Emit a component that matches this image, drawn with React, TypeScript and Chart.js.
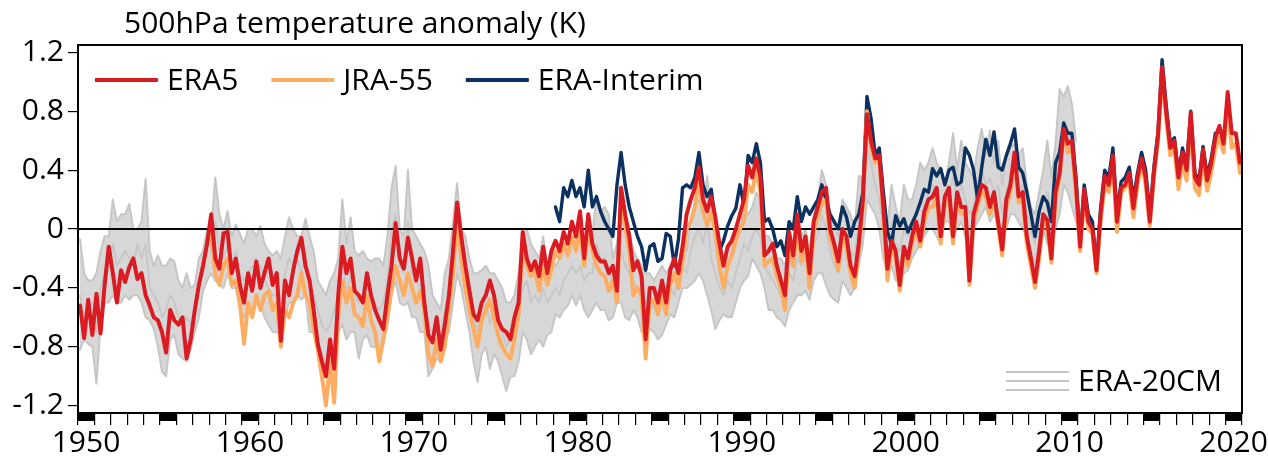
import React, { useEffect, useRef } from "react";
import { Chart, registerables } from "chart.js";

Chart.register(...registerables);

// ---- time axis ----
const POINTS_PER_YEAR = 4;
const X_MIN = 1950;
const X_MAX = 2021;
const DECADE_LABELS = [1950, 1960, 1970, 1980, 1990, 2000, 2010, 2020];
const STRIP_YEARS = [1950, 1955, 1960, 1965, 1970, 1975, 1980, 1985, 1990, 1995, 2000, 2005, 2010, 2015, 2020];
const Y_TICKS = [-1.2, -0.8, -0.4, 0, 0.4, 0.8, 1.2];

const TITLE = "500hPa temperature anomaly (K)";

// ---- series (quarterly values, K) ----
const ERA5_START = 1950;
const era5 = [
  -0.52, -0.74, -0.48, -0.72, // 1950
  -0.44, -0.71, -0.38, -0.12,
  -0.30, -0.50, -0.28, -0.36,
  -0.26, -0.20, -0.34, -0.30,
  -0.45, -0.52, -0.60, -0.62,
  -0.70, -0.84, -0.55, -0.62, // 1955
  -0.65, -0.60, -0.88, -0.75,
  -0.55, -0.38, -0.25, -0.10,
  0.10, -0.20, -0.27, -0.03,
  -0.02, -0.30, -0.20, -0.38,
  -0.50, -0.30, -0.42, -0.22, // 1960
  -0.40, -0.30, -0.20, -0.38,
  -0.30, -0.76, -0.35, -0.45,
  -0.28, -0.15, -0.06, -0.25,
  -0.35, -0.55, -0.78, -0.90,
  -1.00, -0.75, -0.95, -0.45, // 1965
  -0.12, -0.30, -0.20, -0.42,
  -0.45, -0.50, -0.30, -0.45,
  -0.55, -0.62, -0.68, -0.45,
  -0.25, 0.04, -0.20, -0.27,
  -0.06, -0.20, -0.35, -0.20, // 1970
  -0.50, -0.72, -0.77, -0.60,
  -0.82, -0.65, -0.45, -0.15,
  0.18, -0.05, -0.25, -0.42,
  -0.58, -0.62, -0.50, -0.45,
  -0.35, -0.45, -0.62, -0.68, // 1975
  -0.70, -0.75, -0.60, -0.50,
  -0.02, -0.20, -0.28, -0.22,
  -0.32, -0.12, -0.30, -0.15,
  -0.08, -0.15, -0.02, -0.10,
  0.05, -0.05, 0.12, -0.20, // 1980
  0.10, -0.10, -0.18, -0.22,
  -0.22, -0.30, -0.25, -0.42,
  0.28, 0.10, -0.05, -0.28,
  -0.22, -0.32, -0.75, -0.40,
  -0.40, -0.50, -0.35, -0.50, // 1985
  -0.28, -0.20, -0.30, -0.12,
  0.10, 0.20, 0.28, 0.42,
  0.20, 0.12, 0.22, 0.08,
  -0.10, -0.25, -0.12, -0.08,
  0.00, 0.10, 0.20, 0.43, // 1990
  0.35, 0.48, 0.35, -0.18,
  -0.15, -0.10, -0.25, -0.35,
  -0.45, -0.02, -0.18, 0.10,
  -0.15, -0.05, -0.30, 0.05,
  0.15, 0.25, 0.28, 0.00, // 1995
  -0.10, -0.22, 0.00, -0.05,
  -0.25, -0.32, -0.10, 0.20,
  0.78, 0.60, 0.48, 0.50,
  0.15, -0.27, -0.08, -0.15,
  -0.38, -0.12, -0.20, -0.05, // 2000
  0.05, -0.08, 0.12, 0.20,
  0.22, 0.28, -0.05, 0.22,
  0.28, -0.05, 0.25, 0.15,
  0.15, -0.35, 0.10, 0.20,
  0.30, 0.28, 0.15, 0.25, // 2005
  0.05, -0.14, 0.20, 0.30,
  0.52, 0.22, 0.25, -0.05,
  -0.20, -0.36, -0.15, 0.10,
  0.06, -0.20, 0.25, 0.38,
  0.68, 0.58, 0.60, 0.30, // 2010
  -0.12, 0.27, 0.05, 0.00,
  -0.28, 0.10, 0.36, 0.30,
  0.50, 0.05, 0.28, 0.30,
  0.38, 0.14, 0.35, 0.48,
  0.35, 0.05, 0.38, 0.63, // 2015
  1.10, 0.80, 0.55, 0.60,
  0.35, 0.52, 0.40, 0.79,
  0.35, 0.30, 0.54, 0.33,
  0.45, 0.62, 0.70, 0.58,
  0.93, 0.65, 0.65, 0.45, // 2020
];

const JRA55_START = 1958;
const jra55 = [
  -0.05, -0.30, -0.38, -0.25, // 1958
  -0.20, -0.38, -0.35, -0.50,
  -0.78, -0.50, -0.60, -0.45, // 1960
  -0.55, -0.45, -0.42, -0.55,
  -0.50, -0.80, -0.55, -0.60,
  -0.50, -0.45, -0.30, -0.45,
  -0.50, -0.68, -0.82, -1.00,
  -1.20, -0.90, -1.18, -0.60, // 1965
  -0.35, -0.50, -0.40, -0.58,
  -0.60, -0.66, -0.45, -0.62,
  -0.70, -0.90, -0.75, -0.60,
  -0.40, -0.25, -0.35, -0.45,
  -0.30, -0.40, -0.50, -0.42, // 1970
  -0.55, -0.85, -0.93, -0.75,
  -0.90, -0.80, -0.55, -0.30,
  0.10, -0.20, -0.40, -0.55,
  -0.68, -0.80, -0.62, -0.55,
  -0.48, -0.60, -0.72, -0.80, // 1975
  -0.85, -0.88, -0.75, -0.58,
  -0.12, -0.25, -0.32, -0.28,
  -0.42, -0.25, -0.38, -0.28,
  -0.15, -0.20, -0.10, -0.18,
  -0.05, -0.15, 0.02, -0.25, // 1980
  0.00, -0.15, -0.25, -0.30,
  -0.32, -0.42, -0.35, -0.50,
  0.20, 0.02, -0.15, -0.45,
  -0.40, -0.45, -0.88, -0.50,
  -0.48, -0.58, -0.45, -0.58, // 1985
  -0.38, -0.30, -0.40, -0.22,
  0.00, 0.05, 0.15, 0.32,
  0.12, 0.02, 0.12, -0.02,
  -0.25, -0.40, -0.25, -0.18,
  -0.08, 0.00, 0.05, 0.30, // 1990
  0.25, 0.40, 0.25, -0.25,
  -0.22, -0.20, -0.32, -0.40,
  -0.55, -0.12, -0.25, 0.02,
  -0.22, -0.12, -0.40, -0.02,
  0.08, 0.18, 0.20, -0.05, // 1995
  -0.15, -0.28, -0.05, -0.12,
  -0.30, -0.40, -0.15, 0.15,
  0.80, 0.55, 0.45, 0.48,
  0.10, -0.35, -0.12, -0.20,
  -0.42, -0.18, -0.25, -0.10, // 2000
  0.00, -0.12, 0.05, 0.15,
  0.15, 0.22, -0.10, 0.18,
  0.22, -0.10, 0.20, 0.10,
  0.10, -0.38, 0.05, 0.15,
  0.25, 0.22, 0.10, 0.20, // 2005
  0.02, -0.18, 0.15, 0.25,
  0.48, 0.18, 0.20, -0.10,
  -0.25, -0.40, -0.20, 0.05,
  0.02, -0.23, 0.20, 0.35,
  0.65, 0.52, 0.55, 0.25, // 2010
  -0.15, 0.22, 0.00, -0.03,
  -0.30, 0.05, 0.30, 0.25,
  0.45, -0.02, 0.25, 0.28,
  0.32, 0.08, 0.30, 0.45,
  0.30, 0.02, 0.35, 0.60, // 2015
  1.05, 0.75, 0.50, 0.55,
  0.27, 0.45, 0.33, 0.72,
  0.28, 0.23, 0.48, 0.26,
  0.38, 0.55, 0.62, 0.52,
  0.85, 0.55, 0.58, 0.38, // 2020
];

const ERAI_START = 1979;
const eraInterim = [
  0.15, 0.05, 0.28, 0.22, // 1979
  0.33, 0.22, 0.28, 0.15, // 1980
  0.40, 0.15, 0.22, 0.12,
  0.05, 0.00, -0.05, 0.30,
  0.52, 0.30, 0.15, 0.05,
  -0.05, -0.12, -0.28, -0.12,
  -0.10, -0.22, -0.20, -0.03, // 1985
  -0.05, -0.25, -0.07, 0.28,
  0.30, 0.28, 0.35, 0.52,
  0.30, 0.22, 0.27, 0.05,
  -0.15, -0.08, 0.02, 0.09,
  0.14, 0.30, 0.16, 0.50, // 1990
  0.45, 0.58, 0.45, 0.05,
  0.07, 0.00, -0.12, -0.08,
  -0.18, 0.05, 0.00, 0.22,
  0.05, 0.15, 0.10, 0.15,
  0.20, 0.30, 0.20, 0.10, // 1995
  0.05, 0.00, 0.15, 0.08,
  -0.05, 0.05, 0.10, 0.25,
  0.90, 0.75, 0.50, 0.55,
  0.25, -0.02, -0.10, 0.09,
  0.02, 0.07, -0.02, 0.04, // 2000
  0.10, 0.18, 0.27, 0.25,
  0.41, 0.36, 0.41, 0.30,
  0.40, 0.42, 0.30, 0.32,
  0.55, 0.50, 0.40, 0.20,
  0.42, 0.61, 0.50, 0.66, // 2005
  0.42, 0.40, 0.50, 0.58,
  0.68, 0.42, 0.38, 0.25,
  0.10, -0.05, 0.12, 0.22,
  0.18, 0.05, 0.45, 0.52,
  0.72, 0.65, 0.65, 0.35, // 2010
  -0.08, 0.30, 0.10, 0.05,
  -0.25, 0.14, 0.40, 0.35,
  0.55, 0.10, 0.32, 0.35,
  0.42, 0.20, 0.38, 0.52,
  0.40, 0.10, 0.42, 0.66, // 2015
  1.15, 0.84, 0.58, 0.62,
  0.38, 0.55, 0.43, 0.80,
  0.38, 0.33, 0.56, 0.36,
  0.48, 0.65, // 2019
];

// ERA-20CM ensemble members (quarterly, 1950-2010)
const ERA20CM_START = 1950;
const era20cmHigh = [
  -0.07, -0.30, -0.35, -0.35, // 1950
  -0.30, -0.15, -0.05, -0.05,
  0.20, 0.05, 0.10, 0.10,
  0.17, 0.00, 0.00, 0.05,
  0.34, -0.15, -0.25, -0.18,
  -0.25, -0.25, -0.20, -0.22, // 1955
  -0.35, -0.40, -0.30, -0.40,
  -0.38, -0.20, -0.15, 0.00,
  0.00, 0.35, 0.10, 0.00,
  0.12, -0.05, 0.03, -0.03,
  -0.10, 0.00, 0.00, -0.05, // 1960
  0.02, -0.10, -0.15, -0.18,
  -0.15, -0.20, -0.05, 0.08,
  0.00, -0.05, -0.05, 0.07,
  -0.05, -0.15, -0.35, -0.40,
  -0.45, -0.35, -0.30, -0.20, // 1965
  0.20, -0.10, 0.08, -0.15,
  -0.18, -0.15, -0.20, -0.22,
  -0.20, -0.20, -0.25, -0.05,
  0.28, 0.43, 0.00, -0.05,
  0.40, 0.00, -0.05, -0.10, // 1970
  -0.15, -0.25, -0.45, -0.50,
  -0.55, -0.30, -0.20, 0.05,
  0.31, 0.00, -0.05, -0.20,
  -0.30, -0.30, -0.28, -0.25,
  -0.30, -0.30, -0.35, -0.40, // 1975
  -0.50, -0.50, -0.45, -0.30,
  -0.05, 0.00, -0.10, -0.15,
  -0.20, -0.05, -0.25, -0.20,
  -0.25, -0.20, -0.12, -0.15,
  -0.05, -0.05, 0.00, -0.10, // 1980
  0.00, -0.05, 0.23, 0.12,
  0.15, 0.10, -0.20, -0.10,
  0.15, 0.10, 0.00, -0.15,
  -0.20, -0.25, -0.30, -0.30,
  -0.35, -0.30, -0.25, -0.30, // 1985
  -0.25, -0.20, -0.25, -0.10,
  -0.15, 0.05, 0.15, 0.20,
  0.10, 0.36, 0.10, 0.00,
  -0.20, -0.25, -0.15, -0.10,
  -0.05, 0.00, 0.15, 0.10, // 1990
  0.15, 0.25, 0.20, -0.05,
  -0.05, -0.10, -0.20, -0.20,
  -0.25, -0.10, -0.10, 0.05,
  -0.05, 0.00, -0.15, 0.10,
  0.20, 0.40, 0.30, 0.10, // 1995
  0.00, -0.05, 0.20, 0.15,
  0.10, 0.00, 0.36, 0.35,
  0.90, 0.75, 0.55, 0.45,
  0.20, 0.00, 0.30, 0.15,
  0.05, 0.30, 0.20, 0.20, // 2000
  0.30, 0.45, 0.40, 0.45,
  0.55, 0.45, 0.40, 0.30,
  0.45, 0.65, 0.40, 0.60,
  0.45, 0.40, 0.35, 0.55,
  0.68, 0.50, 0.67, 0.45, // 2005
  0.60, 0.30, 0.50, 0.55,
  0.58, 0.50, 0.55, 0.30,
  0.15, 0.10, 0.25, 0.40,
  0.60, 0.35, 0.58, 0.95,
  0.90, 0.97, 0.85, 0.60, // 2010
];

const era20cmMid = [
  -0.45, -0.60, -0.55, -0.50, // 1950
  -0.70, -0.40, -0.30, -0.25,
  -0.10, -0.25, -0.20, -0.15,
  -0.20, -0.25, -0.10, -0.20,
  -0.10, -0.40, -0.45, -0.50,
  -0.60, -0.55, -0.45, -0.50, // 1955
  -0.60, -0.65, -0.60, -0.65,
  -0.55, -0.40, -0.30, -0.15,
  -0.15, 0.05, -0.15, -0.20,
  -0.10, -0.25, -0.15, -0.30,
  -0.35, -0.30, -0.25, -0.30, // 1960
  -0.25, -0.35, -0.40, -0.45,
  -0.45, -0.50, -0.30, -0.20,
  -0.25, -0.20, -0.30, -0.15,
  -0.40, -0.45, -0.55, -0.65,
  -0.70, -0.65, -0.55, -0.45, // 1965
  -0.20, -0.45, -0.30, -0.45,
  -0.50, -0.45, -0.50, -0.55,
  -0.50, -0.55, -0.50, -0.35,
  0.00, 0.10, -0.25, -0.30,
  0.05, -0.30, -0.35, -0.40, // 1970
  -0.45, -0.65, -0.70, -0.70,
  -0.75, -0.55, -0.45, -0.20,
  0.05, -0.20, -0.30, -0.45,
  -0.60, -0.70, -0.55, -0.50,
  -0.65, -0.55, -0.65, -0.70, // 1975
  -0.80, -0.75, -0.70, -0.60,
  -0.40, -0.35, -0.50, -0.45,
  -0.50, -0.40, -0.50, -0.45,
  -0.40, -0.45, -0.35, -0.30,
  -0.25, -0.30, -0.25, -0.35, // 1980
  -0.30, -0.30, -0.10, -0.20,
  -0.20, -0.25, -0.40, -0.30,
  -0.15, -0.25, -0.30, -0.35,
  -0.40, -0.45, -0.50, -0.45,
  -0.55, -0.50, -0.50, -0.45, // 1985
  -0.40, -0.45, -0.35, -0.25,
  -0.30, -0.15, -0.05, 0.00,
  -0.10, 0.05, -0.20, -0.30,
  -0.40, -0.45, -0.35, -0.40,
  -0.30, -0.20, -0.10, -0.15, // 1990
  -0.05, 0.00, -0.05, -0.25,
  -0.30, -0.35, -0.40, -0.45,
  -0.45, -0.30, -0.35, -0.20,
  -0.25, -0.20, -0.30, -0.10,
  -0.05, 0.10, 0.00, -0.15, // 1995
  -0.25, -0.30, -0.05, -0.15,
  -0.15, -0.20, 0.05, 0.15,
  0.55, 0.45, 0.30, 0.20,
  0.00, -0.15, 0.05, -0.10,
  -0.15, 0.00, -0.05, 0.00, // 2000
  0.10, 0.20, 0.15, 0.25,
  0.30, 0.20, 0.15, 0.20,
  0.25, 0.35, 0.20, 0.30,
  0.20, 0.10, 0.15, 0.30,
  0.40, 0.30, 0.35, 0.25, // 2005
  0.30, 0.10, 0.25, 0.35,
  0.35, 0.25, 0.30, 0.10,
  0.00, -0.10, 0.10, 0.20,
  0.25, 0.10, 0.30, 0.55,
  0.60, 0.65, 0.50, 0.30, // 2010
];

const era20cmLow = [
  -0.82, -0.75, -0.78, -0.80, // 1950
  -1.05, -0.65, -0.50, -0.50,
  -0.45, -0.50, -0.50, -0.45,
  -0.48, -0.45, -0.45, -0.50,
  -0.60, -0.62, -0.68, -0.80,
  -0.97, -1.00, -0.75, -0.72, // 1955
  -0.85, -0.88, -0.90, -0.82,
  -0.70, -0.60, -0.42, -0.35,
  -0.30, -0.35, -0.38, -0.40,
  -0.30, -0.40, -0.40, -0.55,
  -0.60, -0.55, -0.58, -0.50, // 1960
  -0.50, -0.60, -0.65, -0.70,
  -0.70, -0.72, -0.60, -0.50,
  -0.50, -0.45, -0.48, -0.45,
  -0.70, -0.70, -0.80, -0.85,
  -0.95, -0.90, -0.85, -0.70, // 1965
  -0.65, -0.75, -0.70, -0.70,
  -0.88, -0.75, -0.72, -0.80,
  -0.80, -0.80, -0.78, -0.65,
  -0.45, -0.35, -0.50, -0.52,
  -0.50, -0.60, -0.60, -0.70, // 1970
  -0.70, -1.00, -0.95, -0.88,
  -0.90, -0.75, -0.70, -0.50,
  -0.30, -0.40, -0.55, -0.70,
  -0.90, -1.04, -0.85, -0.80,
  -0.95, -0.85, -0.90, -1.00, // 1975
  -1.10, -1.00, -1.00, -0.90,
  -0.70, -0.75, -0.85, -0.80,
  -0.75, -0.80, -0.72, -0.70,
  -0.58, -0.60, -0.55, -0.52,
  -0.45, -0.52, -0.45, -0.55, // 1980
  -0.60, -0.55, -0.50, -0.55,
  -0.55, -0.62, -0.60, -0.50,
  -0.50, -0.60, -0.62, -0.55,
  -0.60, -0.70, -0.65, -0.68,
  -0.70, -0.75, -0.72, -0.65, // 1985
  -0.58, -0.60, -0.50, -0.40,
  -0.40, -0.38, -0.35, -0.30,
  -0.35, -0.45, -0.55, -0.68,
  -0.62, -0.58, -0.60, -0.60,
  -0.50, -0.40, -0.35, -0.32, // 1990
  -0.20, -0.25, -0.30, -0.40,
  -0.55, -0.55, -0.60, -0.62,
  -0.66, -0.55, -0.50, -0.45,
  -0.45, -0.42, -0.48, -0.35,
  -0.30, -0.30, -0.38, -0.45, // 1995
  -0.48, -0.50, -0.35, -0.40,
  -0.45, -0.40, -0.25, -0.10,
  0.20, 0.15, 0.10, 0.00,
  -0.20, -0.30, -0.25, -0.35,
  -0.35, -0.30, -0.28, -0.20, // 2000
  -0.15, -0.10, -0.05, 0.00,
  0.00, -0.05, -0.10, 0.05,
  0.05, -0.05, 0.00, 0.05,
  -0.05, -0.20, 0.00, 0.05,
  0.10, 0.15, 0.05, 0.10, // 2005
  0.05, -0.08, 0.00, 0.10,
  0.10, 0.05, 0.00, -0.05,
  -0.15, -0.25, -0.10, 0.00,
  -0.10, -0.16, 0.00, 0.10,
  0.30, 0.25, 0.15, 0.05, // 2010
];

// ---- styling ----
const FONT = "'Open Sans', 'DejaVu Sans', sans-serif";
const FONT_SIZE = 30;
const C_ERA5 = "#da1c22";
const C_JRA = "#fdad62";
const C_ERAI = "#0b3161";
const C_20CM = "#c6c6c6";
const C_20CM_FILL = "rgba(200,200,200,0.72)";

const toPoints = (values: number[], start: number) =>
  values.map((v, i) => ({ x: start + (i + 0.5) / POINTS_PER_YEAR, y: v }));

const frameAndDecor = {
  id: "frameAndDecor",
  afterDatasetDraw(chart: any, args: any) {
    // zero line drawn above the ERA-20CM members, below the reanalyses
    if (args.index !== 3) return;
    const { ctx, chartArea } = chart;
    const y0 = chart.scales.y.getPixelForValue(0);
    ctx.save();
    ctx.strokeStyle = "#000";
    ctx.lineWidth = 2;
    ctx.beginPath();
    ctx.moveTo(chartArea.left, y0);
    ctx.lineTo(chartArea.right, y0);
    ctx.stroke();
    ctx.restore();
  },
  afterDraw(chart: any) {
    const { ctx, chartArea } = chart;
    const xs = chart.scales.x;
    ctx.save();
    // frame
    ctx.strokeStyle = "#000";
    ctx.lineWidth = 2;
    ctx.strokeRect(chartArea.left, chartArea.top, chartArea.right - chartArea.left, chartArea.bottom - chartArea.top);
    // 5-year black blocks under the axis
    ctx.fillStyle = "#000";
    for (const yr of STRIP_YEARS) {
      const a = xs.getPixelForValue(yr);
      const b = xs.getPixelForValue(yr + 1);
      ctx.fillRect(a, chartArea.bottom, b - a, 8);
    }
    // title
    ctx.fillStyle = "#000";
    ctx.font = `${FONT_SIZE}px ${FONT}`;
    ctx.textBaseline = "alphabetic";
    ctx.textAlign = "left";
    ctx.fillText(TITLE, chartArea.left + 46, chartArea.top - 12);

    // legend (top-left, inside)
    const items = [
      { label: "ERA5", color: C_ERA5 },
      { label: "JRA-55", color: C_JRA },
      { label: "ERA-Interim", color: C_ERAI },
    ];
    let x = chartArea.left + 17;
    const ly = chartArea.top + 35;
    ctx.textBaseline = "middle";
    for (const it of items) {
      ctx.strokeStyle = it.color;
      ctx.lineWidth = 4;
      ctx.beginPath();
      ctx.moveTo(x, ly);
      ctx.lineTo(x + 63, ly);
      ctx.stroke();
      ctx.fillStyle = "#000";
      ctx.fillText(it.label, x + 72, ly + 1);
      x = x + 72 + ctx.measureText(it.label).width + 33;
    }
    // ERA-20CM legend (bottom-right, inside)
    const label = "ERA-20CM";
    const tw = ctx.measureText(label).width;
    const tx = chartArea.right - 20 - tw;
    const cy = chartArea.bottom - 32;
    ctx.fillText(label, tx, cy + 1);
    ctx.strokeStyle = C_20CM;
    ctx.lineWidth = 2;
    for (const dy of [-9, 0, 9]) {
      ctx.beginPath();
      ctx.moveTo(tx - 72, cy + dy);
      ctx.lineTo(tx - 9, cy + dy);
      ctx.stroke();
    }
    ctx.restore();
  },
};

export default function App() {
  const ref = useRef<HTMLCanvasElement | null>(null);
  useEffect(() => {
    document.body.style.margin = "0";
    const canvas = ref.current;
    if (!canvas) return;
    const line = (label: string, data: any[], color: string, width: number, order: number, extra: any = {}) => ({
      label,
      data,
      borderColor: color,
      backgroundColor: color,
      borderWidth: width,
      pointRadius: 0,
      tension: 0,
      borderJoinStyle: "round",
      borderCapStyle: "round",
      fill: false,
      order,
      ...extra,
    });
    const chart = new Chart(canvas, {
      type: "line",
      data: {
        datasets: [
          line("ERA5", toPoints(era5, ERA5_START), C_ERA5, 4, 0),
          line("JRA-55", toPoints(jra55, JRA55_START), C_JRA, 4, 1),
          line("ERA-Interim", toPoints(eraInterim, ERAI_START), C_ERAI, 3.4, 2),
          line("ERA-20CM a", toPoints(era20cmHigh, ERA20CM_START), C_20CM, 2, 3, {
            fill: { target: "+2", above: C_20CM_FILL, below: C_20CM_FILL },
          }),
          line("ERA-20CM b", toPoints(era20cmMid, ERA20CM_START), C_20CM, 2, 3),
          line("ERA-20CM c", toPoints(era20cmLow, ERA20CM_START), C_20CM, 2, 3),
        ] as any,
      },
      options: {
        responsive: false,
        animation: false,
        devicePixelRatio: 1,
        events: [],
        layout: { padding: { top: 45, right: 26, left: 0, bottom: 0 } },
        plugins: { legend: { display: false }, tooltip: { enabled: false }, title: { display: false } },
        scales: {
          x: {
            type: "linear",
            min: X_MIN,
            max: X_MAX,
            afterBuildTicks: (s: any) => {
              const t = [];
              for (let yr = X_MIN; yr <= X_MAX; yr++) t.push({ value: yr });
              s.ticks = t;
            },
            afterFit: (s: any) => {
              s.height = 47;
            },
            ticks: {
              autoSkip: false,
              maxRotation: 0,
              minRotation: 0,
              labelOffset: 8,
              padding: 0,
              color: "#000",
              font: { family: FONT, size: FONT_SIZE },
              callback: (v: any) => (DECADE_LABELS.includes(Number(v)) ? String(v) : ""),
            },
            grid: { drawOnChartArea: false, drawTicks: true, tickLength: 12, color: "#000", lineWidth: 1.2 },
            border: { display: false },
          },
          y: {
            type: "linear",
            min: -1.25,
            max: 1.25,
            afterBuildTicks: (s: any) => {
              s.ticks = Y_TICKS.map((v) => ({ value: v }));
            },
            afterFit: (s: any) => {
              s.width = 78;
            },
            ticks: {
              padding: 4,
              color: "#000",
              font: { family: FONT, size: FONT_SIZE },
              callback: (v: any) => (Number(v) === 0 ? "0" : Number(v).toFixed(1)),
            },
            grid: { drawOnChartArea: false, drawTicks: true, tickLength: 10, color: "#000", lineWidth: 1.2 },
            border: { display: false },
          },
        },
      },
      plugins: [frameAndDecor],
    } as any);
    return () => chart.destroy();
  }, []);
  return (
    <div style={{ width: 1268, height: 460, position: "relative", background: "#fff" }}>
      <canvas ref={ref} width={1268} height={460} style={{ display: "block", width: 1268, height: 460 }} />
    </div>
  );
}
